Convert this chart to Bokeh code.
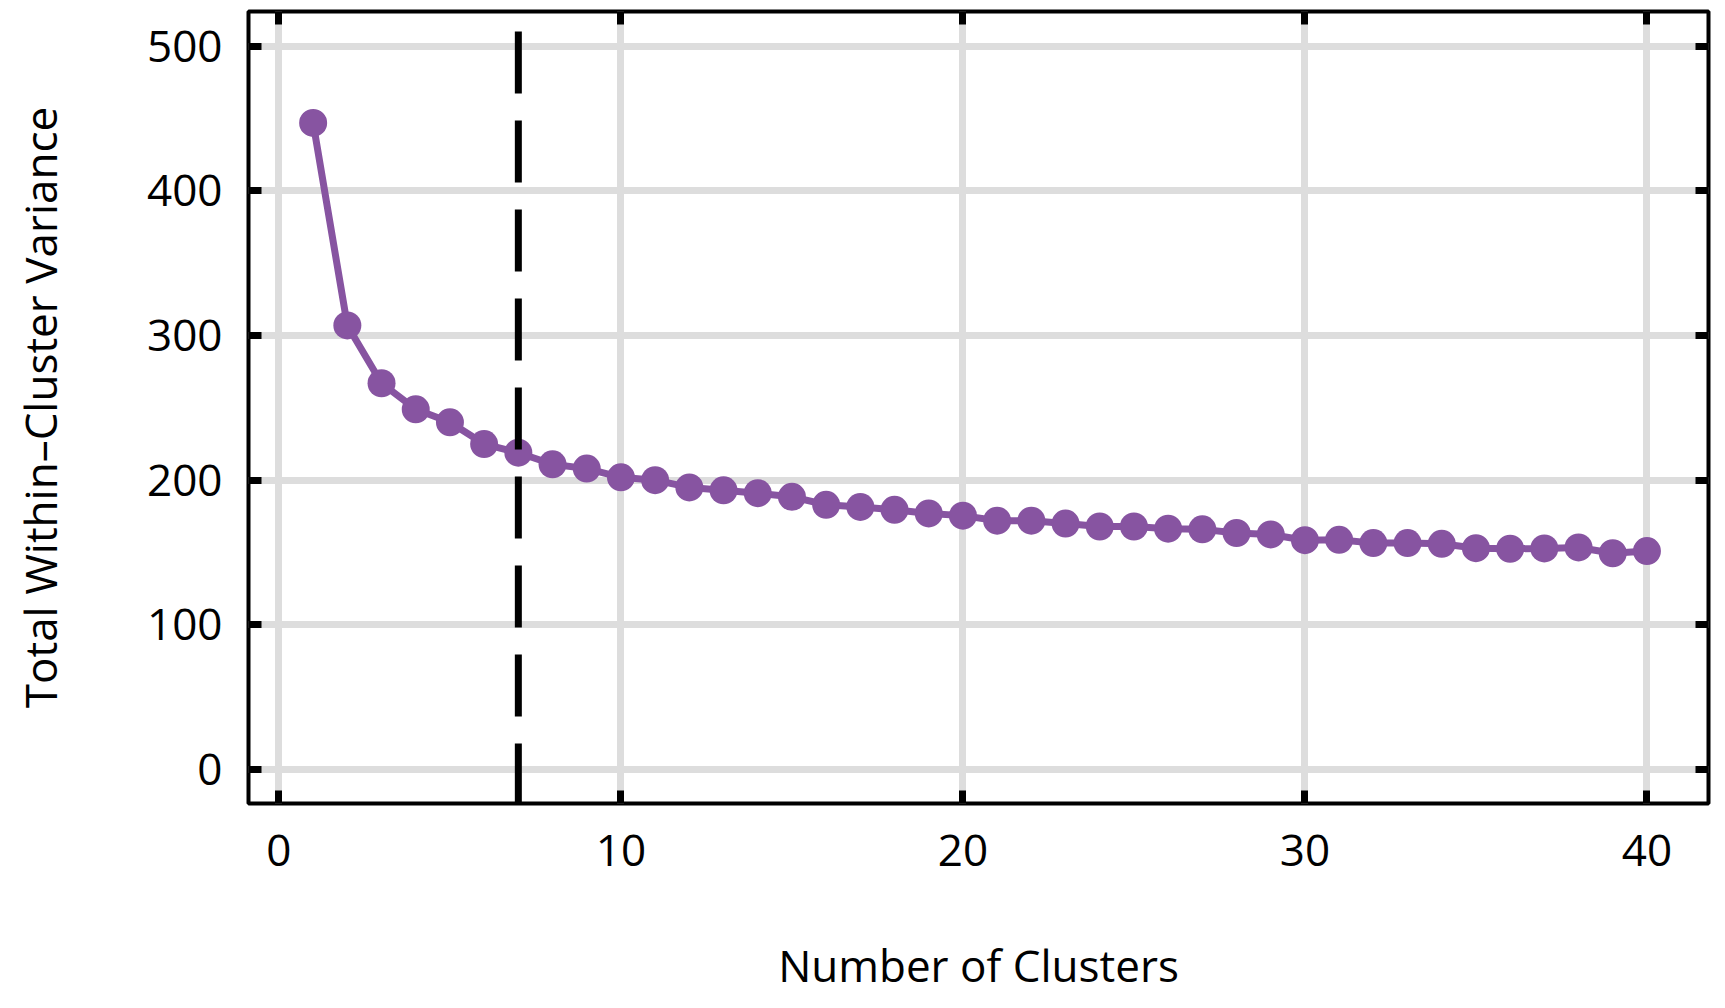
from bokeh.plotting import figure
from bokeh.models import Range1d, LinearAxis, Span, FixedTicker, ColumnDataSource
from bokeh.embed import file_html
from bokeh.resources import INLINE

# ---- data ----
clusters = list(range(1, 41))
variance = [447, 307, 267, 249, 240, 225, 219, 211, 208, 202,
            200, 195, 193, 191, 188.5, 183, 181.5, 179.5, 177, 175.5,
            172, 172, 170, 168, 168, 166.5, 166, 163.5, 162.5, 158.5,
            158.8, 156.5, 156.5, 156, 153, 152.6, 152.8, 153.5, 149.5, 151]
elbow_k = 7
x_ticks = [0, 10, 20, 30, 40]
y_ticks = [0, 100, 200, 300, 400, 500]
x_title = "Number of Clusters"
y_title = "Total Within\u2013Cluster Variance"

FONT = "Open Sans"
FS = "44px"
PURPLE = "#8754A1"
GRID = "#dddddd"

p = figure(width=1717, height=1000, output_backend="svg", toolbar_location=None,
           x_range=Range1d(-0.89, 41.8), y_range=Range1d(-23.5, 524),
           x_axis_location=None, y_axis_location=None)
p.min_border_left = 248
p.min_border_right = 9
p.min_border_top = 11
p.min_border_bottom = 197
p.background_fill_color = "white"
p.border_fill_color = "white"
p.outline_line_color = "black"
p.outline_line_width = 4
p.outline_line_alpha = 1

bottom = LinearAxis(axis_label=x_title)
top = LinearAxis()
left = LinearAxis(axis_label=y_title)
right = LinearAxis()
for ax, ticks, show in ((bottom, x_ticks, True), (top, x_ticks, False),
                        (left, y_ticks, True), (right, y_ticks, False)):
    ax.ticker = FixedTicker(ticks=ticks)
    ax.axis_line_color = None
    ax.major_tick_in = 13
    ax.major_tick_out = 0
    ax.major_tick_line_width = 7
    ax.major_tick_line_color = "black"
    ax.minor_tick_line_color = None
    ax.major_label_text_font = FONT
    if show:
        ax.major_label_text_font_size = FS
        ax.major_label_text_color = "black"
        ax.axis_label_text_font = FONT
        ax.axis_label_text_font_size = FS
        ax.axis_label_text_font_style = "normal"
        ax.axis_label_text_color = "black"
    else:
        ax.major_label_text_font_size = "0px"
        ax.major_label_text_color = None
        ax.major_label_standoff = 0

left.major_label_standoff = 26
left.axis_label_standoff = 74
bottom.major_label_standoff = 31
bottom.axis_label_standoff = 66

p.add_layout(bottom, "below")
p.add_layout(top, "above")
p.add_layout(left, "left")
p.add_layout(right, "right")

p.xgrid.ticker = FixedTicker(ticks=x_ticks)
p.ygrid.ticker = FixedTicker(ticks=y_ticks)
for g in (p.xgrid, p.ygrid):
    g.grid_line_color = GRID
    g.grid_line_width = 7

src = ColumnDataSource(dict(k=clusters, v=variance))
p.line("k", "v", source=src, line_color=PURPLE, line_width=7)
p.scatter("k", "v", source=src, size=28, fill_color=PURPLE, line_color=None)

elbow = Span(location=elbow_k, dimension="height", line_color="black",
             line_width=7, line_dash="62 27", line_dash_offset=69)
p.add_layout(elbow)

open("out.html", "w").write(file_html(p, INLINE))
